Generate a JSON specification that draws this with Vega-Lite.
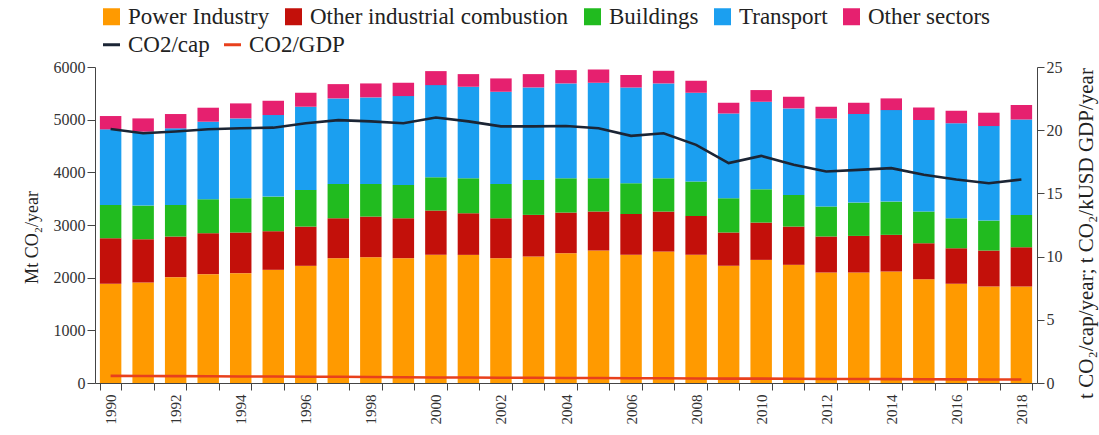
{
  "$schema": "https://vega.github.io/schema/vega-lite/v6.json",
  "width": 942,
  "height": 316,
  "autosize": {"type": "none"},
  "padding": {"left": 95, "top": 67, "right": 62, "bottom": 52},
  "background": "white",
  "config": {
    "view": {"stroke": null},
    "font": "Liberation Serif",
    "axis": {"labelFont": "Liberation Serif", "titleFont": "Liberation Serif", "labelColor": "#333", "titleColor": "#222", "domainColor": "#444", "tickColor": "#444", "titleFontWeight": "normal", "grid": false},
    "legend": {"labelFont": "Liberation Serif", "labelColor": "#222"}
  },
  "datasets": {
    "sectorOrder": [
      {"sector": "Power Industry", "rank": 1}, {"sector": "Other industrial combustion", "rank": 2}, {"sector": "Buildings", "rank": 3}, {"sector": "Transport", "rank": 4}, {"sector": "Other sectors", "rank": 5}
    ],
    "sectors": [
      {"year": 1990, "sector": "Power Industry", "value": 1883}, {"year": 1990, "sector": "Other industrial combustion", "value": 866}, {"year": 1990, "sector": "Buildings", "value": 632}, {"year": 1990, "sector": "Transport", "value": 1435}, {"year": 1990, "sector": "Other sectors", "value": 253},
      {"year": 1991, "sector": "Power Industry", "value": 1909}, {"year": 1991, "sector": "Other industrial combustion", "value": 821}, {"year": 1991, "sector": "Buildings", "value": 639}, {"year": 1991, "sector": "Transport", "value": 1403}, {"year": 1991, "sector": "Other sectors", "value": 252},
      {"year": 1992, "sector": "Power Industry", "value": 2010}, {"year": 1992, "sector": "Other industrial combustion", "value": 771}, {"year": 1992, "sector": "Buildings", "value": 600}, {"year": 1992, "sector": "Transport", "value": 1454}, {"year": 1992, "sector": "Other sectors", "value": 272},
      {"year": 1993, "sector": "Power Industry", "value": 2067}, {"year": 1993, "sector": "Other industrial combustion", "value": 777}, {"year": 1993, "sector": "Buildings", "value": 645}, {"year": 1993, "sector": "Transport", "value": 1472}, {"year": 1993, "sector": "Other sectors", "value": 266},
      {"year": 1994, "sector": "Power Industry", "value": 2086}, {"year": 1994, "sector": "Other industrial combustion", "value": 771}, {"year": 1994, "sector": "Buildings", "value": 651}, {"year": 1994, "sector": "Transport", "value": 1516}, {"year": 1994, "sector": "Other sectors", "value": 285},
      {"year": 1995, "sector": "Power Industry", "value": 2149}, {"year": 1995, "sector": "Other industrial combustion", "value": 733}, {"year": 1995, "sector": "Buildings", "value": 657}, {"year": 1995, "sector": "Transport", "value": 1549}, {"year": 1995, "sector": "Other sectors", "value": 271},
      {"year": 1996, "sector": "Power Industry", "value": 2225}, {"year": 1996, "sector": "Other industrial combustion", "value": 745}, {"year": 1996, "sector": "Buildings", "value": 696}, {"year": 1996, "sector": "Transport", "value": 1580}, {"year": 1996, "sector": "Other sectors", "value": 265},
      {"year": 1997, "sector": "Power Industry", "value": 2370}, {"year": 1997, "sector": "Other industrial combustion", "value": 758}, {"year": 1997, "sector": "Buildings", "value": 651}, {"year": 1997, "sector": "Transport", "value": 1625}, {"year": 1997, "sector": "Other sectors", "value": 271},
      {"year": 1998, "sector": "Power Industry", "value": 2389}, {"year": 1998, "sector": "Other industrial combustion", "value": 771}, {"year": 1998, "sector": "Buildings", "value": 619}, {"year": 1998, "sector": "Transport", "value": 1644}, {"year": 1998, "sector": "Other sectors", "value": 265},
      {"year": 1999, "sector": "Power Industry", "value": 2370}, {"year": 1999, "sector": "Other industrial combustion", "value": 758}, {"year": 1999, "sector": "Buildings", "value": 632}, {"year": 1999, "sector": "Transport", "value": 1688}, {"year": 1999, "sector": "Other sectors", "value": 253},
      {"year": 2000, "sector": "Power Industry", "value": 2433}, {"year": 2000, "sector": "Other industrial combustion", "value": 841}, {"year": 2000, "sector": "Buildings", "value": 632}, {"year": 2000, "sector": "Transport", "value": 1750}, {"year": 2000, "sector": "Other sectors", "value": 266},
      {"year": 2001, "sector": "Power Industry", "value": 2433}, {"year": 2001, "sector": "Other industrial combustion", "value": 790}, {"year": 2001, "sector": "Buildings", "value": 664}, {"year": 2001, "sector": "Transport", "value": 1738}, {"year": 2001, "sector": "Other sectors", "value": 240},
      {"year": 2002, "sector": "Power Industry", "value": 2370}, {"year": 2002, "sector": "Other industrial combustion", "value": 758}, {"year": 2002, "sector": "Buildings", "value": 651}, {"year": 2002, "sector": "Transport", "value": 1751}, {"year": 2002, "sector": "Other sectors", "value": 253},
      {"year": 2003, "sector": "Power Industry", "value": 2402}, {"year": 2003, "sector": "Other industrial combustion", "value": 790}, {"year": 2003, "sector": "Buildings", "value": 663}, {"year": 2003, "sector": "Transport", "value": 1757}, {"year": 2003, "sector": "Other sectors", "value": 253},
      {"year": 2004, "sector": "Power Industry", "value": 2465}, {"year": 2004, "sector": "Other industrial combustion", "value": 771}, {"year": 2004, "sector": "Buildings", "value": 651}, {"year": 2004, "sector": "Transport", "value": 1801}, {"year": 2004, "sector": "Other sectors", "value": 253},
      {"year": 2005, "sector": "Power Industry", "value": 2515}, {"year": 2005, "sector": "Other industrial combustion", "value": 740}, {"year": 2005, "sector": "Buildings", "value": 632}, {"year": 2005, "sector": "Transport", "value": 1813}, {"year": 2005, "sector": "Other sectors", "value": 253},
      {"year": 2006, "sector": "Power Industry", "value": 2433}, {"year": 2006, "sector": "Other industrial combustion", "value": 778}, {"year": 2006, "sector": "Buildings", "value": 581}, {"year": 2006, "sector": "Transport", "value": 1820}, {"year": 2006, "sector": "Other sectors", "value": 234},
      {"year": 2007, "sector": "Power Industry", "value": 2496}, {"year": 2007, "sector": "Other industrial combustion", "value": 759}, {"year": 2007, "sector": "Buildings", "value": 632}, {"year": 2007, "sector": "Transport", "value": 1801}, {"year": 2007, "sector": "Other sectors", "value": 240},
      {"year": 2008, "sector": "Power Industry", "value": 2433}, {"year": 2008, "sector": "Other industrial combustion", "value": 740}, {"year": 2008, "sector": "Buildings", "value": 651}, {"year": 2008, "sector": "Transport", "value": 1687}, {"year": 2008, "sector": "Other sectors", "value": 228},
      {"year": 2009, "sector": "Power Industry", "value": 2225}, {"year": 2009, "sector": "Other industrial combustion", "value": 632}, {"year": 2009, "sector": "Buildings", "value": 651}, {"year": 2009, "sector": "Transport", "value": 1611}, {"year": 2009, "sector": "Other sectors", "value": 202},
      {"year": 2010, "sector": "Power Industry", "value": 2338}, {"year": 2010, "sector": "Other industrial combustion", "value": 708}, {"year": 2010, "sector": "Buildings", "value": 632}, {"year": 2010, "sector": "Transport", "value": 1662}, {"year": 2010, "sector": "Other sectors", "value": 222},
      {"year": 2011, "sector": "Power Industry", "value": 2244}, {"year": 2011, "sector": "Other industrial combustion", "value": 726}, {"year": 2011, "sector": "Buildings", "value": 601}, {"year": 2011, "sector": "Transport", "value": 1643}, {"year": 2011, "sector": "Other sectors", "value": 221},
      {"year": 2012, "sector": "Power Industry", "value": 2098}, {"year": 2012, "sector": "Other industrial combustion", "value": 683}, {"year": 2012, "sector": "Buildings", "value": 569}, {"year": 2012, "sector": "Transport", "value": 1674}, {"year": 2012, "sector": "Other sectors", "value": 222},
      {"year": 2013, "sector": "Power Industry", "value": 2098}, {"year": 2013, "sector": "Other industrial combustion", "value": 695}, {"year": 2013, "sector": "Buildings", "value": 632}, {"year": 2013, "sector": "Transport", "value": 1682}, {"year": 2013, "sector": "Other sectors", "value": 214},
      {"year": 2014, "sector": "Power Industry", "value": 2117}, {"year": 2014, "sector": "Other industrial combustion", "value": 696}, {"year": 2014, "sector": "Buildings", "value": 631}, {"year": 2014, "sector": "Transport", "value": 1738}, {"year": 2014, "sector": "Other sectors", "value": 222},
      {"year": 2015, "sector": "Power Industry", "value": 1972}, {"year": 2015, "sector": "Other industrial combustion", "value": 682}, {"year": 2015, "sector": "Buildings", "value": 601}, {"year": 2015, "sector": "Transport", "value": 1738}, {"year": 2015, "sector": "Other sectors", "value": 240},
      {"year": 2016, "sector": "Power Industry", "value": 1883}, {"year": 2016, "sector": "Other industrial combustion", "value": 677}, {"year": 2016, "sector": "Buildings", "value": 568}, {"year": 2016, "sector": "Transport", "value": 1802}, {"year": 2016, "sector": "Other sectors", "value": 240},
      {"year": 2017, "sector": "Power Industry", "value": 1833}, {"year": 2017, "sector": "Other industrial combustion", "value": 682}, {"year": 2017, "sector": "Buildings", "value": 569}, {"year": 2017, "sector": "Transport", "value": 1795}, {"year": 2017, "sector": "Other sectors", "value": 253},
      {"year": 2018, "sector": "Power Industry", "value": 1833}, {"year": 2018, "sector": "Other industrial combustion", "value": 746}, {"year": 2018, "sector": "Buildings", "value": 613}, {"year": 2018, "sector": "Transport", "value": 1813}, {"year": 2018, "sector": "Other sectors", "value": 272}
    ],
    "ratios": [
      {"year": 1990, "series": "CO2/cap", "value": 20.1}, {"year": 1991, "series": "CO2/cap", "value": 19.76}, {"year": 1992, "series": "CO2/cap", "value": 19.9}, {"year": 1993, "series": "CO2/cap", "value": 20.08}, {"year": 1994, "series": "CO2/cap", "value": 20.15}, {"year": 1995, "series": "CO2/cap", "value": 20.2}, {"year": 1996, "series": "CO2/cap", "value": 20.55}, {"year": 1997, "series": "CO2/cap", "value": 20.8}, {"year": 1998, "series": "CO2/cap", "value": 20.7}, {"year": 1999, "series": "CO2/cap", "value": 20.55}, {"year": 2000, "series": "CO2/cap", "value": 21.0}, {"year": 2001, "series": "CO2/cap", "value": 20.7}, {"year": 2002, "series": "CO2/cap", "value": 20.3}, {"year": 2003, "series": "CO2/cap", "value": 20.3}, {"year": 2004, "series": "CO2/cap", "value": 20.33}, {"year": 2005, "series": "CO2/cap", "value": 20.15}, {"year": 2006, "series": "CO2/cap", "value": 19.55}, {"year": 2007, "series": "CO2/cap", "value": 19.76}, {"year": 2008, "series": "CO2/cap", "value": 18.84}, {"year": 2009, "series": "CO2/cap", "value": 17.4}, {"year": 2010, "series": "CO2/cap", "value": 17.97}, {"year": 2011, "series": "CO2/cap", "value": 17.26}, {"year": 2012, "series": "CO2/cap", "value": 16.73}, {"year": 2013, "series": "CO2/cap", "value": 16.86}, {"year": 2014, "series": "CO2/cap", "value": 17.0}, {"year": 2015, "series": "CO2/cap", "value": 16.47}, {"year": 2016, "series": "CO2/cap", "value": 16.1}, {"year": 2017, "series": "CO2/cap", "value": 15.8}, {"year": 2018, "series": "CO2/cap", "value": 16.1},
      {"year": 1990, "series": "CO2/GDP", "value": 0.56}, {"year": 1991, "series": "CO2/GDP", "value": 0.55}, {"year": 1992, "series": "CO2/GDP", "value": 0.54}, {"year": 1993, "series": "CO2/GDP", "value": 0.53}, {"year": 1994, "series": "CO2/GDP", "value": 0.52}, {"year": 1995, "series": "CO2/GDP", "value": 0.51}, {"year": 1996, "series": "CO2/GDP", "value": 0.5}, {"year": 1997, "series": "CO2/GDP", "value": 0.49}, {"year": 1998, "series": "CO2/GDP", "value": 0.47}, {"year": 1999, "series": "CO2/GDP", "value": 0.45}, {"year": 2000, "series": "CO2/GDP", "value": 0.44}, {"year": 2001, "series": "CO2/GDP", "value": 0.43}, {"year": 2002, "series": "CO2/GDP", "value": 0.42}, {"year": 2003, "series": "CO2/GDP", "value": 0.41}, {"year": 2004, "series": "CO2/GDP", "value": 0.4}, {"year": 2005, "series": "CO2/GDP", "value": 0.39}, {"year": 2006, "series": "CO2/GDP", "value": 0.37}, {"year": 2007, "series": "CO2/GDP", "value": 0.37}, {"year": 2008, "series": "CO2/GDP", "value": 0.36}, {"year": 2009, "series": "CO2/GDP", "value": 0.35}, {"year": 2010, "series": "CO2/GDP", "value": 0.35}, {"year": 2011, "series": "CO2/GDP", "value": 0.34}, {"year": 2012, "series": "CO2/GDP", "value": 0.32}, {"year": 2013, "series": "CO2/GDP", "value": 0.32}, {"year": 2014, "series": "CO2/GDP", "value": 0.31}, {"year": 2015, "series": "CO2/GDP", "value": 0.3}, {"year": 2016, "series": "CO2/GDP", "value": 0.29}, {"year": 2017, "series": "CO2/GDP", "value": 0.28}, {"year": 2018, "series": "CO2/GDP", "value": 0.28}
    ]
  },
  "layer": [
    {
      "data": {"name": "sectors"},
      "transform": [
        {"lookup": "sector", "from": {"data": {"name": "sectorOrder"}, "key": "sector", "fields": ["rank"]}}
      ],
      "mark": {"type": "bar"},
      "encoding": {
        "x": {
          "field": "year", "type": "ordinal",
          "scale": {"paddingInner": 0.34, "paddingOuter": 0.15},
          "axis": {"title": null, "labelAngle": -90, "labelExpr": "datum.value % 2 == 0 ? datum.label : ''", "tickBand": "extent", "tickSize": 7, "labelPadding": 4, "labelFontSize": 15}
        },
        "y": {
          "field": "value", "type": "quantitative", "stack": "zero",
          "scale": {"domain": [0, 6000]},
          "axis": {"title": "Mt CO₂/year", "format": "d", "values": [0, 1000, 2000, 3000, 4000, 5000, 6000], "tickSize": 8, "labelPadding": 2, "labelFontSize": 16, "titleFontSize": 18, "titlePadding": 12, "titleY": 170}
        },
        "order": {"field": "rank", "type": "quantitative", "sort": "ascending"},
        "color": {
          "field": "sector", "type": "nominal",
          "sort": ["Power Industry", "Other industrial combustion", "Buildings", "Transport", "Other sectors"],
          "scale": {"domain": ["Power Industry", "Other industrial combustion", "Buildings", "Transport", "Other sectors"], "range": ["#ff9a00", "#c3100a", "#21bb1f", "#1b9ff0", "#e6206f"]},
          "legend": {"title": null, "orient": "none", "legendX": 5, "legendY": -62, "direction": "horizontal", "symbolType": "square", "symbolSize": 289, "symbolStrokeWidth": 0, "labelFontSize": 23, "labelOffset": 5, "columnPadding": 12, "labelLimit": 400}
        }
      }
    },
    {
      "data": {"name": "ratios"},
      "mark": {"type": "line", "strokeWidth": 2.6},
      "encoding": {
        "x": {"field": "year", "type": "ordinal"},
        "y": {
          "field": "value", "type": "quantitative",
          "scale": {"domain": [0, 25]},
          "axis": {"orient": "right", "title": "t CO₂/cap/year; t CO₂/kUSD GDP/year", "values": [0, 5, 10, 15, 20, 25], "tickSize": 7, "labelPadding": 2, "labelFontSize": 16, "titleFontSize": 21, "titleAngle": -90, "titlePadding": 34, "titleY": 166}
        },
        "stroke": {
          "field": "series", "type": "nominal",
          "scale": {"domain": ["CO2/cap", "CO2/GDP"], "range": ["#1b2535", "#e8401c"]},
          "legend": {"title": null, "orient": "none", "legendX": 5, "legendY": -34, "direction": "horizontal", "symbolType": "stroke", "symbolSize": 289, "symbolStrokeWidth": 3, "labelFontSize": 23, "labelOffset": 5, "columnPadding": 8}
        }
      }
    }
  ],
  "resolve": {"scale": {"y": "independent"}}
}
